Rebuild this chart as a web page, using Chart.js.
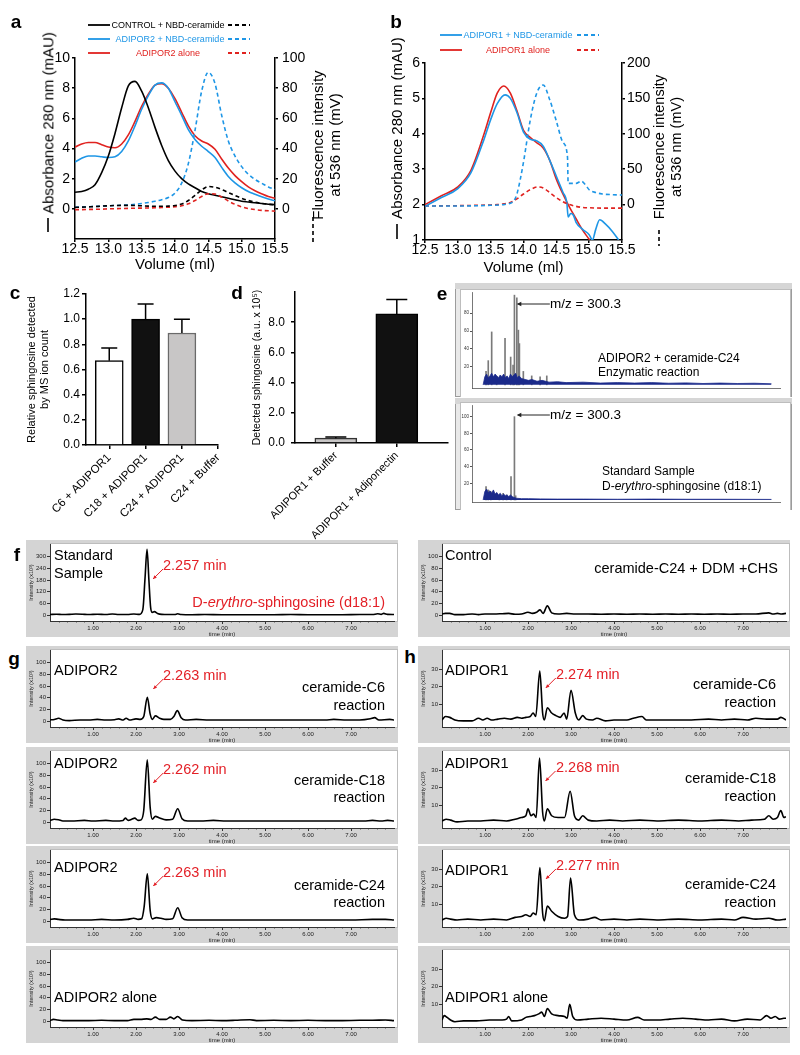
<!DOCTYPE html>
<html>
<head>
<meta charset="utf-8">
<script src="https://cdn.jsdelivr.net/npm/chart.js@4.4.1/dist/chart.umd.min.js"></script>
<style>
  body { margin: 0; background: #fff; }
  #fig { position: relative; width: 800px; height: 1055px; overflow: hidden; background: #fff;
         font-family: "Liberation Sans", Arial, sans-serif; }
  .tx { position: absolute; white-space: nowrap; line-height: 1.15; color: #000; }
  canvas { position: absolute; }
</style>
</head>
<body>
<div id="fig"></div>
<script>
// ---- panel a: gel filtration, ADIPOR2 ----
const volA = [12.5,12.6,12.7,12.8,12.9,13.0,13.1,13.2,13.3,13.4,13.5,13.6,13.7,13.8,13.9,14.0,14.1,14.2,14.3,14.4,14.5,14.6,14.7,14.8,14.9,15.0,15.1,15.2,15.3,15.4,15.5];
const ctrlAbs = [1.1,1.15,1.3,1.6,2.4,3.5,5.0,6.7,8.15,8.45,7.8,6.7,5.4,4.2,3.2,2.5,2.0,1.65,1.4,1.15,1.0,0.9,0.8,0.7,0.6,0.5,0.45,0.4,0.35,0.3,0.28];
const r2NbdAbs = [3.1,3.35,3.5,3.5,3.45,3.4,3.45,3.8,4.5,5.5,6.6,7.5,8.2,8.35,8.0,7.1,6.2,5.25,4.6,4.15,3.8,3.4,2.75,2.15,1.72,1.4,1.15,0.97,0.8,0.65,0.53];
const r2AloneAbs = [4.1,4.3,4.4,4.4,4.25,4.1,4.05,4.3,4.9,5.8,6.8,7.6,8.2,8.3,8.0,7.3,6.4,5.5,4.85,4.5,4.3,3.95,3.3,2.7,2.2,1.8,1.45,1.2,1.0,0.82,0.7];
const ctrlFl = [1.0,1.1,1.3,1.5,1.8,2.0,2.2,2.3,2.3,2.2,2.0,1.8,1.7,1.7,1.8,2.2,3.2,5.5,9.0,12.5,14.8,14.3,12.8,10.8,8.8,7.0,5.5,4.4,3.6,3.0,2.7];
const r2NbdFl = [1.0,1.2,1.4,1.6,1.8,2.0,2.2,2.4,2.6,3.0,3.5,4.2,5.0,6.0,7.5,10.5,17,30,52,78,90.5,83,62,45,35,28,23,19.5,17,14.5,12.8];
const r2AloneFl = [-0.5,-0.5,-0.4,-0.3,-0.2,0,0.1,0.2,0.3,0.4,0.5,0.6,0.7,0.9,1.1,1.4,2.0,3.3,5.5,8.2,10.0,9.8,7.8,5.2,3.0,1.3,0.2,-0.5,-1.0,-1.3,-1.5];

// ---- panel b: gel filtration, ADIPOR1 ----
const volBr = [12.5,12.75,13.0,13.2,13.4,13.5,13.6,13.7,13.8,13.9,14.0,14.1,14.2,14.3,14.4,14.5,14.6,14.7,14.8,14.9,15.0,15.1];
const r1AloneAbs = [2.0,2.25,2.5,2.97,4.0,4.6,5.15,5.35,5.15,4.65,4.1,3.9,3.75,3.6,3.25,2.72,2.3,1.93,1.6,1.28,1.02,0.75];
const volBn = [12.5,12.75,13.0,13.2,13.4,13.5,13.6,13.72,13.8,13.9,14.0,14.1,14.2,14.3,14.4,14.5,14.6,14.66,14.68,14.72,14.76,14.8,14.9,15.0,15.05,15.1,15.16,15.25,15.35,15.45];
const r1NbdAbs = [1.95,2.2,2.45,2.9,3.85,4.4,4.85,5.1,5.0,4.6,4.05,3.85,3.8,3.65,3.25,2.8,2.35,2.05,1.65,1.75,1.7,1.5,1.3,1.15,1.0,1.3,1.57,1.45,1.25,1.0];
const volBf = [12.5,13.0,13.5,13.7,13.8,13.85,13.9,14.0,14.1,14.2,14.3,14.4,14.5,14.6,14.67,14.68,14.8,14.88,14.95,15.0,15.1,15.2,15.35,15.5];
const r1NbdFl = [-2,-2,-1,0,2,5,15,60,118,157,169,148,118,88,67,30,30,33,27,21,17,15,14,13.5];
const volBa = [12.5,13.0,13.5,13.6,13.7,13.8,13.9,14.0,14.1,14.22,14.3,14.4,14.5,14.6,14.7,14.8,14.9,15.0,15.2,15.5];
const r1AloneFl = [-2,-1.5,-0.5,0,1,3,8,15,21,25,23.5,17,10,4,0,-2.5,-4,-4.5,-5,-5];

// ---- panels c, d: bars ----
const catsC = ['C6 + ADIPOR1', 'C18 + ADIPOR1', 'C24 + ADIPOR1', 'C24 + Buffer'];
const valsC = [0.67, 1.0, 0.89, 0];
const errC = [0.10, 0.12, 0.11, 0];
const catsD = ['ADIPOR1 + Buffer', 'ADIPOR1 + Adiponectin'];
const valsD = [0.32, 8.55];
const errD = [0.07, 0.95];

// ---- panel e: MS spectra (m/z, relative %) ----
const mzTop = [132,145,165,194,243,276,290,298,312,321,327,350,399,448,487];
const pctTop = [15,27,59,9,52,31,22,100,97,61,46,15,10,9,10];
const noiseTopMz = [115,125,135,145,155,165,175,185,195,205,215,225,235,245,255,265,275,285,295,305,315,325,340,360,380,400,430,460,500,550,600,700,800,900,1000,1100,1200,1300,1400,1500,1600,1700,1800];
const noiseTopPct = [0,9,12,8,10,13,9,12,10,8,11,9,12,8,10,7,12,9,11,13,8,10,7,6,5,6,4,5,3,3.5,2.5,3,2,2.5,2,2.5,1.8,2.2,1.5,2,1.5,1.8,1.2];
const mzBot = [132,145,160,210,232,252,278,298,305];
const pctBot = [16,12,10,6,8,6,28,100,5];
const noiseBotMz = [115,125,135,145,155,165,175,185,195,205,215,225,235,245,255,265,275,285,295,310,340,380,450,550,700,900,1100,1300,1500,1800];
const noiseBotPct = [0,10,13,9,11,8,12,7,9,6,8,5,7,5,6,4,6,4,3,2,1.5,1.5,1.2,1,1,0.8,1,0.8,0.8,0.6];

// ---- panels f, g, h: chromatograms (time min, intensity) ----
const tStd = [0,0.15,0.3,0.45,0.6,0.75,0.9,1.1,1.3,1.45,1.6,1.8,1.95,2.08,2.16,2.21,2.257,2.3,2.34,2.38,2.43,2.5,2.6,2.75,2.9,2.97,3.05,3.3,3.6,4.0,4.4,4.8,5.2,5.6,6.0,6.4,6.8,7.2,7.5,7.62,7.7,7.76,7.85,8.0];
const iStd = [3,5,3,4,6,5,3,5,3,6,3,3,6,4,30,190,338,180,40,14,18,9,4,3,3,7,3,2,3,2,2,2,2,3,2,2,2,3,3,7,4,9,4,3];
const tCtrl = [0,0.08,0.18,0.3,0.5,0.7,0.85,1.0,1.2,1.4,1.55,1.7,1.85,2.0,2.1,2.2,2.28,2.35,2.45,2.55,2.7,2.9,3.1,3.4,3.7,4.0,4.3,4.6,4.9,5.2,5.5,5.8,6.1,6.4,6.7,7.0,7.3,7.6,7.7,7.8,7.9,8.0];
const iCtrl = [2,3,3,1,1,2,1,2,2,2.5,3,1.5,2,5,3,5,9,3,16,4,2,3,2,2,1.5,2,1.5,2,1.5,2,1.5,2,1.5,2,1.5,2,2,4,2,3,2,3];
const tR2C6 = [0,0.1,0.2,0.3,0.45,0.7,0.9,1.1,1.3,1.5,1.6,1.7,1.77,1.85,2.0,2.1,2.18,2.263,2.33,2.38,2.45,2.55,2.65,2.8,2.88,2.96,3.05,3.15,3.4,3.7,4.0,4.4,4.8,5.2,5.6,6.0,6.4,6.6,6.9,7.2,7.45,7.55,7.65,7.9,8.0];
const iR2C6 = [2,3,5,2,1,2,2,3,2,2.5,4,2,5,2,4,3,8,41,12,3,9,5,3,3,8,18,6,2,3,2,2,2,2,2,2,2,2,3,2,2,4,6,2,3,2];
const tR2C18 = [0,0.1,0.2,0.3,0.5,0.8,1.0,1.3,1.5,1.7,1.75,1.82,1.9,1.97,2.05,2.12,2.18,2.262,2.33,2.38,2.45,2.55,2.7,2.85,2.97,3.07,3.2,3.5,3.8,4.1,4.5,5.0,5.5,6.0,6.5,7.0,7.3,7.5,7.7,7.85,8.0];
const iR2C18 = [3,5,4,2,2,3,2,3,2,3,7,3,5,7,3,4,20,107,25,5,10,7,4,5,23,6,2,2,3,2,2,2,2,2,2,2,2,3,2,3,2];
const tR2C24 = [0,0.1,0.2,0.35,0.6,0.9,1.2,1.5,1.8,1.95,2.05,2.13,2.19,2.263,2.33,2.38,2.47,2.58,2.7,2.85,2.97,3.07,3.2,3.5,3.8,4.2,4.6,5.0,5.5,6.0,6.5,7.0,7.5,7.8,8.0];
const iR2C24 = [3,4,3,2,2,2,3,2,3,5,3,4,25,81,18,4,6,5,3,4,23,6,2,2,2,2,2,2,2,2,2,2,3,3,2];
const tR2 = [0,0.08,0.18,0.3,0.6,0.9,1.2,1.5,1.8,1.95,2.1,2.25,2.35,2.45,2.55,2.7,2.8,2.88,2.97,3.08,3.3,3.7,4.0,4.3,4.65,4.8,5.2,5.6,6.0,6.4,6.8,7.2,7.5,7.8,8.0];
const iR2 = [1,3,2,1,1,1,1.5,1,1,3,3,4,3,7,3,3,7,4,8,2,1,1.5,1,1.5,2.5,1,1.5,1,1.5,1,1,1.5,1.5,2,1];
const tR1C6 = [0,0.08,0.18,0.3,0.5,0.7,0.85,0.95,1.05,1.15,1.3,1.45,1.6,1.75,1.85,1.95,2.05,2.12,2.18,2.274,2.34,2.38,2.45,2.55,2.65,2.75,2.84,2.9,3.0,3.1,3.18,3.27,3.36,3.5,3.6,3.8,4.0,4.3,4.45,4.65,4.75,5.0,5.4,5.8,6.2,6.5,6.8,7.1,7.3,7.55,7.8,7.88,8.0];
const iR1C6 = [1,3,2.5,1,0.5,0.5,2,1,2,1,1.5,2,1.5,2.5,2,2.5,3,5,3,29,5,1,8,5,3.5,2.5,5,1.5,18,5,1,3.5,1.5,1,2,0.5,1,1,2,3,1,1,1,1,1.5,1,1.5,1,2,1.5,1.5,2.5,1];
const tR1C18 = [0,0.1,0.2,0.35,0.6,0.9,1.2,1.5,1.7,1.85,1.95,2.0,2.07,2.13,2.19,2.268,2.34,2.38,2.45,2.55,2.7,2.85,2.98,3.08,3.18,3.27,3.4,3.6,3.9,4.2,4.6,5.0,5.5,6.0,6.5,6.9,7.2,7.5,7.6,7.7,7.8,7.88,7.95,8.0];
const iR1C18 = [1,2,1.5,0.5,1,1,1.5,1,2,3,4,8,4,5,3,37,6,1,8,4,3,3,18,4,1.5,4,1.5,1,1.5,1,1.5,1,1.5,1,1.5,1,1.5,2,4,2,3,7,3,3.5];
const tR1C24 = [0,0.1,0.2,0.35,0.6,0.9,1.2,1.5,1.7,1.85,1.95,2.05,2.12,2.19,2.277,2.34,2.38,2.45,2.55,2.7,2.85,2.92,2.99,3.08,3.2,3.4,3.55,3.7,4.0,4.3,4.6,5.0,5.5,6.0,6.5,6.8,7.0,7.3,7.6,7.8,8.0];
const iR1C24 = [1,2,1.5,1,1.5,1,1.5,1,2.5,3,4,3,5,4,31,5,0.5,9,6,3,2,3,25,4,1,1.5,2.5,1,1.5,1,1.5,1,1.5,1,1.5,1,2.5,1.5,2,1,1.5];
const tR1 = [0,0.05,0.12,0.2,0.3,0.5,0.8,1.1,1.4,1.5,1.55,1.62,1.85,1.95,2.05,2.15,2.25,2.32,2.38,2.45,2.55,2.7,2.85,2.91,2.97,3.04,3.15,3.4,3.7,4.0,4.3,4.55,4.7,5.0,5.3,5.6,5.9,6.2,6.5,6.8,7.1,7.4,7.55,7.65,7.75,7.85,7.95,8.0];
const iR1 = [1,3.5,2.5,1,0,0.5,0.5,1,1,1.5,3,0.5,1,2.5,3,3.5,4.5,5.5,3,7.5,4.5,3.5,3,2,10,3,1,1.5,2,1.5,1,2.5,1,1,1.5,2,1.5,1,1.5,0.5,1.5,1,3.5,2,3,1.5,2,2];

const BLUE = '#1e96e6', RED = '#e0221f', ARED = '#e31f26';
const FONT = '"Liberation Sans", Arial, sans-serif';
Chart.defaults.font.family = FONT;
Chart.defaults.color = '#000';
Chart.defaults.animation = false;

const fig = document.getElementById('fig');
function pts(xs, ys) { return xs.map((x, i) => ({ x: x, y: ys[i] })); }
function canvasAt(x, y, w, h, css) {
  const c = document.createElement('canvas');
  c.width = w; c.height = h;
  c.style.cssText = `left:${x}px;top:${y}px;width:${w}px;height:${h}px;` + (css || '');
  fig.appendChild(c);
  return c;
}
function put(html, x, y, o) {
  o = o || {};
  const d = document.createElement('div');
  d.className = 'tx';
  d.innerHTML = html;
  d.style.left = x + 'px';
  d.style.top = y + 'px';
  d.style.fontSize = (o.size || 14.5) + 'px';
  if (o.color) d.style.color = o.color;
  if (o.bold) d.style.fontWeight = 'bold';
  const ax = o.align === 'right' ? '-100%' : (o.align === 'center' || o.rot) ? '-50%' : '0';
  d.style.transform = `translate(${ax},-50%)` + (o.rot ? ' rotate(-90deg)' : '');
  fig.appendChild(d);
}
function arrowHead(ctx, x1, y1, x2, y2, size) {
  const a = Math.atan2(y2 - y1, x2 - x1);
  ctx.beginPath();
  ctx.moveTo(x2, y2);
  ctx.lineTo(x2 - size * Math.cos(a - 0.45), y2 - size * Math.sin(a - 0.45));
  ctx.lineTo(x2 - size * Math.cos(a + 0.45), y2 - size * Math.sin(a + 0.45));
  ctx.closePath();
  ctx.fill();
}

// plugins
const errBars = {
  id: 'errBars',
  afterDatasetsDraw(chart, args, opts) {
    const ctx = chart.ctx, ys = chart.scales.y;
    chart.data.datasets.forEach((ds, di) => {
      chart.getDatasetMeta(di).data.forEach((bar, i) => {
        const e = ds.errors[i];
        if (!e) return;
        const yTop = ys.getPixelForValue(ds.data[i].y + e);
        ctx.save();
        ctx.strokeStyle = '#000'; ctx.lineWidth = 1.5;
        ctx.beginPath();
        ctx.moveTo(bar.x, bar.y); ctx.lineTo(bar.x, yTop);
        ctx.moveTo(bar.x - opts.cap / 2, yTop); ctx.lineTo(bar.x + opts.cap / 2, yTop);
        ctx.stroke();
        ctx.restore();
      });
    });
  }
};
const whiteArea = {
  id: 'whiteArea',
  beforeDraw(chart, args, o) {
    const a = chart.chartArea, ctx = chart.ctx;
    ctx.save();
    if (o.header) {
      ctx.fillStyle = '#d6d6d6';
      ctx.fillRect(0, 0, chart.width, 6);
    }
    ctx.fillStyle = '#fff';
    ctx.strokeStyle = '#bdbdbd';
    const l = a.left - (o.l || 0), t = a.top - (o.t || 1), w = a.right - a.left + (o.l || 0) + (o.r || 3), h = a.bottom - t + (o.b || 0);
    ctx.fillRect(l, t, w, h);
    ctx.strokeRect(l + 0.5, t + 0.5, w, h);
    ctx.restore();
  }
};
const minorTicks = {
  id: 'minorTicks',
  afterDraw(chart) {
    const xs = chart.scales.x, ctx = chart.ctx, y0 = chart.chartArea.bottom;
    ctx.save();
    ctx.strokeStyle = '#333'; ctx.lineWidth = 0.8;
    ctx.beginPath();
    for (let k = 1; k < 40; k++) {
      if (k % 5 === 0) continue;
      const x = Math.round(xs.getPixelForValue(k * 0.2)) + 0.5;
      ctx.moveTo(x, y0); ctx.lineTo(x, y0 + 1.5);
    }
    ctx.stroke();
    ctx.restore();
  }
};
const peakArrow = {
  id: 'peakArrow',
  afterDraw(chart, args, o) {
    if (o.t == null) return;
    const ctx = chart.ctx;
    const x0 = chart.scales.x.getPixelForValue(o.t);
    const sx = x0 + 16, sy = o.ly + 4, ex = x0 + 6, ey = o.ly + 14;
    ctx.save();
    ctx.strokeStyle = ARED; ctx.fillStyle = ARED; ctx.lineWidth = 1;
    ctx.beginPath(); ctx.moveTo(sx, sy); ctx.lineTo(ex, ey); ctx.stroke();
    arrowHead(ctx, sx, sy, ex, ey, 4);
    ctx.restore();
  }
};
const mzArrow = {
  id: 'mzArrow',
  afterDraw(chart, args, o) {
    const ctx = chart.ctx;
    const x0 = chart.scales.x.getPixelForValue(o.mz);
    ctx.save();
    ctx.strokeStyle = '#222'; ctx.fillStyle = '#222'; ctx.lineWidth = 1;
    ctx.beginPath(); ctx.moveTo(x0 + 35, o.y); ctx.lineTo(x0 + 3, o.y); ctx.stroke();
    arrowHead(ctx, x0 + 35, o.y, x0 + 2, o.y, 5);
    ctx.restore();
  }
};

// ---------- a / b ----------
const abGrid = { drawOnChartArea: false, tickLength: 3, color: '#000', lineWidth: 1.5 };
const abBorder = { color: '#000', width: 1.5 };
function gelChart(cv, sets, o) {
  return new Chart(cv, {
    type: 'line',
    data: { datasets: sets },
    options: {
      responsive: false, animation: false,
      layout: { padding: { top: o.top, left: 0, right: 0, bottom: 0 } },
      elements: { point: { radius: 0 }, line: { borderWidth: 1.6, cubicInterpolationMode: 'monotone' } },
      plugins: { legend: { display: false }, tooltip: { enabled: false } },
      scales: {
        x: {
          type: 'linear', min: 12.5, max: 15.5,
          afterFit: s => { s.height = o.xh; },
          ticks: { stepSize: 0.5, callback: v => v.toFixed(1), font: { size: 14, lineHeight: 1 }, padding: 0, maxRotation: 0, autoSkip: false },
          grid: abGrid, border: abBorder,
          title: { display: true, text: 'Volume (ml)', font: { size: 15 }, padding: { top: 0, bottom: o.tpad } }
        },
        y: {
          position: 'left', min: o.y1[0], max: o.y1[1],
          afterFit: s => { s.width = o.yw; },
          afterBuildTicks: s => { s.ticks = s.ticks.filter(t => t.value >= o.y1[2]); },
          ticks: { stepSize: o.y1[3], font: { size: 14, lineHeight: 1 }, padding: 2 },
          grid: abGrid, border: abBorder
        },
        y2: {
          position: 'right', min: o.y2[0], max: o.y2[1],
          afterFit: s => { s.width = o.y2w; },
          afterBuildTicks: s => { s.ticks = s.ticks.filter(t => t.value >= 0); },
          ticks: { stepSize: o.y2[2], font: { size: 14, lineHeight: 1 }, padding: o.rpad },
          grid: abGrid, border: abBorder
        }
      }
    }
  });
}
const dash = [4, 3];
gelChart(canvasAt(0, 0, 360, 280), [
  { data: pts(volA, ctrlFl), borderColor: '#000', borderDash: dash, yAxisID: 'y2' },
  { data: pts(volA, r2NbdFl), borderColor: BLUE, borderDash: dash, yAxisID: 'y2' },
  { data: pts(volA, r2AloneFl), borderColor: RED, borderDash: dash, yAxisID: 'y2' },
  { data: pts(volA, ctrlAbs), borderColor: '#000', yAxisID: 'y' },
  { data: pts(volA, r2NbdAbs), borderColor: BLUE, yAxisID: 'y' },
  { data: pts(volA, r2AloneAbs), borderColor: RED, yAxisID: 'y' }
], { top: 58, xh: 41, tpad: 6, yw: 75, y2w: 85, rpad: 4, y1: [-2, 10, 0, 2], y2: [-20, 100, 20] });

gelChart(canvasAt(360, 0, 440, 280), [
  { data: pts(volBf, r1NbdFl), borderColor: BLUE, borderDash: dash, yAxisID: 'y2' },
  { data: pts(volBa, r1AloneFl), borderColor: RED, borderDash: dash, yAxisID: 'y2' },
  { data: pts(volBn, r1NbdAbs), borderColor: BLUE, yAxisID: 'y' },
  { data: pts(volBr, r1AloneAbs), borderColor: RED, yAxisID: 'y' }
], { top: 63, xh: 40, tpad: 3, yw: 65, y2w: 178, rpad: 2, y1: [1, 6, 1, 1], y2: [-50, 200, 50] });

// ---------- c / d ----------
function barChart(cv, cats, vals, errs, o) {
  return new Chart(cv, {
    type: 'bar',
    data: { datasets: [{
      data: cats.map((c, i) => ({ x: i, y: vals[i] })),
      backgroundColor: o.fill, borderColor: o.stroke, borderWidth: 1.5,
      barThickness: o.bw, errors: errs
    }] },
    plugins: [errBars],
    options: {
      responsive: false, animation: false,
      layout: { padding: { top: o.top, right: o.right, left: 0, bottom: 0 } },
      plugins: { legend: { display: false }, tooltip: { enabled: false }, errBars: { cap: o.cap } },
      scales: {
        x: {
          type: 'linear', min: o.xr[0], max: o.xr[1], offset: false,
          afterBuildTicks: s => { s.ticks = cats.map((c, i) => ({ value: i })); },
          afterFit: s => { s.height = o.xh; },
          ticks: { callback: v => cats[v], minRotation: 45, maxRotation: 45, autoSkip: false, font: { size: o.lsize }, padding: 2 },
          grid: { drawOnChartArea: false, offset: false, tickLength: 4, color: '#000', lineWidth: 1.5 },
          border: abBorder
        },
        y: {
          min: 0, max: o.ymax,
          afterFit: s => { s.width = o.yw; },
          afterBuildTicks: s => { s.ticks = s.ticks.filter(t => t.value <= o.ytop + 1e-9); },
          ticks: { stepSize: o.step, callback: v => v.toFixed(1), font: { size: 12, lineHeight: 1 }, padding: o.tpad },
          grid: { drawOnChartArea: false, tickLength: o.tl, color: '#000', lineWidth: 1.5 },
          border: abBorder,
          title: { display: true, text: o.title, font: { size: o.tsize, lineHeight: 1.15 }, padding: { top: o.ttop, bottom: 0 } }
        }
      }
    }
  });
}
barChart(canvasAt(0, 280, 230, 262), catsC, valsC, errC, {
  fill: ['#fff', '#111', '#c8c6c6', '#fff'], stroke: ['#000', '#000', '#6a6a6a', 'rgba(0,0,0,0)'],
  bw: 28, cap: 16, top: 14, right: 7, xr: [-0.64, 3], xh: 97, ymax: 1.2, ytop: 1.2, step: 0.2, yw: 86,
  tpad: 2, tl: 4, lsize: 11.5, title: ['Relative sphingosine detected', 'by MS ion count'], tsize: 11, ttop: 26
});
barChart(canvasAt(230, 280, 225, 266), catsD, valsD, errD, {
  fill: ['#c8c6c6', '#111'], stroke: ['#333', '#000'],
  bw: 42, cap: 21, top: 5, right: 7, xr: [-0.67, 1.84], xh: 103, ymax: 10, ytop: 8, step: 2, yw: 65,
  tpad: 6, tl: 4, lsize: 11, title: 'Detected sphingosine (a.u. x 10\u2075)', tsize: 10.5, ttop: 21
});

// ---------- e ----------
function specChart(x, y, w, h, o) {
  return new Chart(canvasAt(x, y, w, h, 'background:#e9e9e9;box-shadow:inset 0 0 0 1px #9c9c9c;'), {
    type: 'bar',
    data: { datasets: [
      { type: 'line', data: pts(o.nmz, o.npct), borderColor: '#1b2a8a', backgroundColor: '#1b2a8a',
        borderWidth: 0.8, fill: 'origin', pointRadius: 0, tension: 0, order: 0 },
      { type: 'bar', data: pts(o.mz, o.pct), backgroundColor: '#7a7a7a', barThickness: 1, order: 1 }
    ] },
    plugins: [whiteArea, mzArrow],
    options: {
      responsive: false, animation: false,
      layout: { padding: { top: o.top, right: w - 325, left: 0, bottom: 0 } },
      plugins: { legend: { display: false }, tooltip: { enabled: false },
        whiteArea: { header: true, l: 12, r: 10, t: 3, b: 9 }, mzArrow: { mz: 300.3, y: o.ay } },
      scales: {
        x: {
          type: 'linear', min: 50, max: 1850, offset: false,
          afterFit: s => { s.height = h - o.bottom; },
          afterBuildTicks: s => { s.ticks = s.ticks.filter(t => t.value % 200 === 0 && t.value >= 200); },
          ticks: { stepSize: 200, font: { size: 4.5, lineHeight: 1 }, padding: 1, color: '#333', autoSkip: false, maxRotation: 0 },
          grid: { drawOnChartArea: false, offset: false, tickLength: 2, color: '#555' },
          border: { color: '#555', width: 0.8 }
        },
        y: {
          min: o.ymin, max: o.ymax,
          afterFit: s => { s.width = 17; },
          afterBuildTicks: s => { s.ticks = s.ticks.filter(t => t.value >= 0 && t.value <= 100); },
          ticks: { stepSize: 20, font: { size: 4.5, lineHeight: 1 }, padding: 1, color: '#333' },
          grid: { drawOnChartArea: false, tickLength: 2, color: '#555' },
          border: { color: '#555', width: 0.8 }
        }
      }
    }
  });
}
specChart(455, 283, 337, 114, { top: 9, bottom: 105, ymin: -3.5, ymax: 103.5, ay: 21,
  mz: mzTop, pct: pctTop, nmz: noiseTopMz, npct: noiseTopPct });
specChart(455, 398, 337, 112, { top: 7, bottom: 104, ymin: -2.5, ymax: 114, ay: 17,
  mz: mzBot, pct: pctBot, nmz: noiseBotMz, npct: noiseBotPct });

// ---------- f / g / h ----------
function chrom(bx, by, t, v, ymin, ymax, ystep, ytop, peak) {
  return new Chart(canvasAt(bx, by, 372, 97, 'background:#d4d4d4;'), {
    type: 'line',
    data: { datasets: [{ data: pts(t, v), borderColor: '#000', borderWidth: 1.6, pointRadius: 0, cubicInterpolationMode: 'monotone' }] },
    plugins: [whiteArea, minorTicks, peakArrow],
    options: {
      responsive: false, animation: false,
      layout: { padding: { top: 2, right: 4, left: 0, bottom: 0 } },
      plugins: { legend: { display: false }, tooltip: { enabled: false }, whiteArea: {}, peakArrow: peak || {} },
      scales: {
        x: {
          type: 'linear', min: 0, max: 8,
          afterFit: s => { s.height = 16; },
          afterBuildTicks: s => { s.ticks = [1, 2, 3, 4, 5, 6, 7].map(k => ({ value: k })); },
          ticks: { callback: k => k.toFixed(2), font: { size: 6, lineHeight: 1 }, padding: 1, color: '#222', maxRotation: 0, autoSkip: false },
          grid: { drawOnChartArea: false, tickLength: 3, color: '#333' },
          border: { color: '#333', width: 1 },
          title: { display: true, text: 'time (min)', font: { size: 6, lineHeight: 1 }, padding: 0, color: '#222' }
        },
        y: {
          min: ymin, max: ymax,
          afterFit: s => { s.width = 24; },
          afterBuildTicks: s => { s.ticks = s.ticks.filter(k => k.value >= 0 && k.value <= ytop); },
          ticks: { stepSize: ystep, font: { size: 6, lineHeight: 1 }, padding: 1, color: '#222' },
          grid: { drawOnChartArea: false, tickLength: 3, color: '#333' },
          border: { color: '#333', width: 1 },
          title: { display: true, text: 'Intensity (x10\u00b3)', font: { size: 5.5, lineHeight: 1 }, padding: { top: 3 }, color: '#222' }
        }
      }
    }
  });
}
const GX = 26, HX = 418;
chrom(GX, 540, tStd, iStd, -30, 365, 60, 300, { t: 2.257, ly: 25 });
chrom(HX, 540, tCtrl, iCtrl, -10, 122, 20, 100);
chrom(GX, 646, tR2C6, iR2C6, -10, 122, 20, 100, { t: 2.263, ly: 29 });
chrom(GX, 747, tR2C18, iR2C18, -10, 122, 20, 100, { t: 2.262, ly: 22 });
chrom(GX, 846, tR2C24, iR2C24, -10, 122, 20, 100, { t: 2.263, ly: 26 });
chrom(GX, 946, tR2, iR2, -10, 122, 20, 100);
chrom(HX, 646, tR1C6, iR1C6, -3, 41, 10, 30, { t: 2.274, ly: 28 });
chrom(HX, 747, tR1C18, iR1C18, -3, 41, 10, 30, { t: 2.268, ly: 20 });
chrom(HX, 846, tR1C24, iR1C24, -3, 41, 10, 30, { t: 2.277, ly: 19 });
chrom(HX, 946, tR1, iR1, -3, 41, 10, 30);

// ---------- text ----------
const L = { bold: true, size: 19, align: 'center' };
put('a', 16, 22, L); put('b', 396, 22, L); put('c', 15, 293, L); put('d', 237, 293, L);
put('e', 442, 294, L); put('f', 17, 555, L); put('g', 14, 659, L); put('h', 410, 657, L);

put('CONTROL + NBD-ceramide', 168, 25, { size: 9, align: 'center' });
put('ADIPOR2 + NBD-ceramide', 170, 39, { size: 9, align: 'center', color: BLUE });
put('ADIPOR2 alone', 168, 53, { size: 9, align: 'center', color: RED });
put('ADIPOR1 + NBD-ceramide', 518, 35, { size: 9, align: 'center', color: BLUE });
put('ADIPOR1 alone', 518, 50, { size: 9, align: 'center', color: RED });

put('Absorbance 280 nm (mAU)', 48, 123, { size: 15, rot: true });
put('Fluorescence intensity', 318, 145, { size: 15, rot: true });
put('at 536 nm (mV)', 335, 145, { size: 15, rot: true });
put('Absorbance 280 nm (mAU)', 397, 128, { size: 15, rot: true });
put('Fluorescence intensity', 659, 147, { size: 14.5, rot: true });
put('at 536 nm (mV)', 676, 147, { size: 14.5, rot: true });

put('m/z = 300.3', 550, 304, { size: 13.5 });
put('ADIPOR2 + ceramide-C24', 598, 359, { size: 12 });
put('Enzymatic reaction', 598, 373, { size: 12 });
put('m/z = 300.3', 550, 415, { size: 13.5 });
put('Standard Sample', 602, 472, { size: 12 });
put('D-<i>erythro</i>-sphingosine (d18:1)', 602, 487, { size: 12 });

put('Standard', 54, 555); put('Sample', 54, 573);
put('2.257 min', 163, 565, { color: ARED });
put('D-<i>erythro</i>-sphingosine (d18:1)', 385, 602, { color: ARED, align: 'right' });
put('Control', 445, 555);
put('ceramide-C24 + DDM +CHS', 778, 568, { align: 'right' });

put('ADIPOR2', 54, 670); put('2.263 min', 163, 675, { color: ARED });
put('ceramide-C6', 385, 687, { align: 'right' }); put('reaction', 385, 705, { align: 'right' });
put('ADIPOR2', 54, 763); put('2.262 min', 163, 769, { color: ARED });
put('ceramide-C18', 385, 780, { align: 'right' }); put('reaction', 385, 797, { align: 'right' });
put('ADIPOR2', 54, 867); put('2.263 min', 163, 872, { color: ARED });
put('ceramide-C24', 385, 885, { align: 'right' }); put('reaction', 385, 902, { align: 'right' });
put('ADIPOR2 alone', 54, 997);

put('ADIPOR1', 445, 670); put('2.274 min', 556, 674, { color: ARED });
put('ceramide-C6', 776, 684, { align: 'right' }); put('reaction', 776, 702, { align: 'right' });
put('ADIPOR1', 445, 763); put('2.268 min', 556, 767, { color: ARED });
put('ceramide-C18', 776, 778, { align: 'right' }); put('reaction', 776, 796, { align: 'right' });
put('ADIPOR1', 445, 870); put('2.277 min', 556, 865, { color: ARED });
put('ceramide-C24', 776, 884, { align: 'right' }); put('reaction', 776, 902, { align: 'right' });
put('ADIPOR1 alone', 445, 997);

// legend swatches and axis-title line keys
const svgNS = 'http://www.w3.org/2000/svg';
const svg = document.createElementNS(svgNS, 'svg');
svg.setAttribute('width', 800); svg.setAttribute('height', 1055);
svg.style.cssText = 'position:absolute;left:0;top:0;pointer-events:none;';
fig.appendChild(svg);
function seg(x1, y1, x2, y2, color, dashed, w) {
  const l = document.createElementNS(svgNS, 'line');
  l.setAttribute('x1', x1); l.setAttribute('y1', y1); l.setAttribute('x2', x2); l.setAttribute('y2', y2);
  l.setAttribute('stroke', color); l.setAttribute('stroke-width', w || 1.8);
  if (dashed) l.setAttribute('stroke-dasharray', '4,3');
  svg.appendChild(l);
}
seg(88, 25, 110, 25, '#000'); seg(228, 25, 250, 25, '#000', true);
seg(88, 39, 110, 39, BLUE); seg(228, 39, 250, 39, BLUE, true);
seg(88, 53, 110, 53, RED); seg(228, 53, 250, 53, RED, true);
seg(440, 35, 462, 35, BLUE); seg(577, 35, 599, 35, BLUE, true);
seg(440, 50, 462, 50, RED); seg(577, 50, 599, 50, RED, true);
seg(48, 218, 48, 232, '#000', false, 1.6); seg(313, 217, 313, 243, '#000', true, 1.6);
seg(397, 224, 397, 239, '#000', false, 1.6); seg(659, 230, 659, 246, '#000', true, 1.6);
</script>
</body>
</html>
